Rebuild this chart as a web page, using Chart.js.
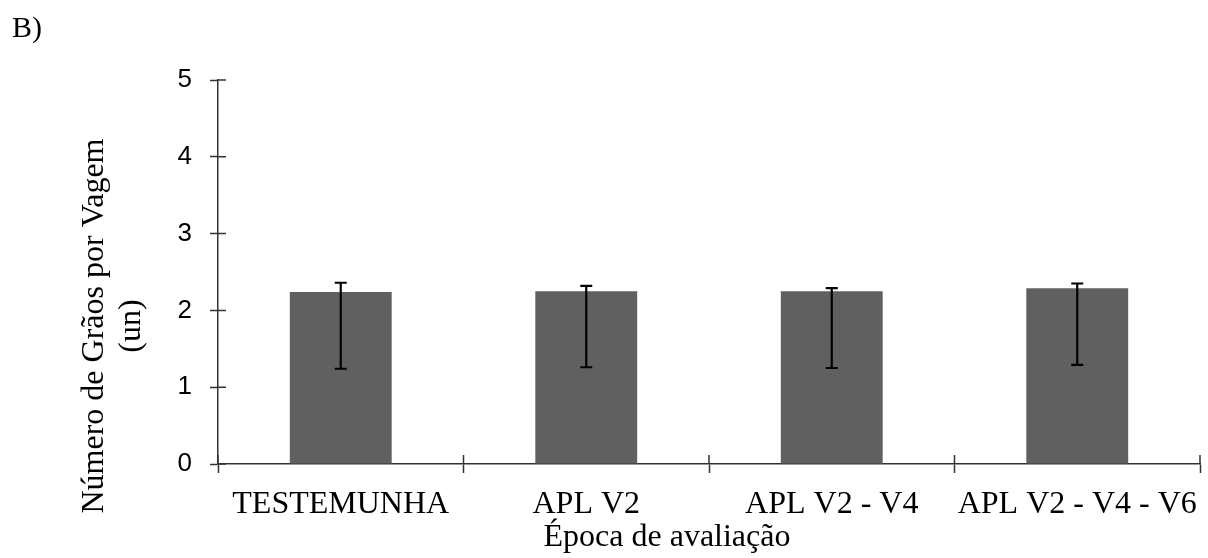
<!DOCTYPE html>
<html lang="pt">
<head>
  <meta charset="UTF-8" />
  <title>Número de Grãos por Vagem</title>
  <script src="https://cdn.jsdelivr.net/npm/chart.js"></script>
  <style>
    body {
      margin: 0;
      background: #fff;
    }
    .wrap {
      width: 1208px;
      height: 558px;
      position: relative;
    }
  </style>
</head>
<body>
  <div class="wrap">
    <canvas id="grainsChart"></canvas>
  </div>

  <script>
    // data
    const categories = ['TESTEMUNHA', 'APL V2', 'APL V2 - V4', 'APL V2 - V4 - V6'];
    const grains = [2.24, 2.25, 2.25, 2.29];
    const errLow = [1.24, 1.26, 1.25, 1.29];
    const errHigh = [2.36, 2.32, 2.29, 2.35];
    const yTicks = [0, 1, 2, 3, 4, 5];

    const serif = '"Liberation Serif", "Times New Roman", serif';
    const sans = '"Liberation Sans", Arial, sans-serif';

    // error bars + ticks that cross the axes + text around the plot
    const extras = {
      id: 'extras',
      afterDatasetsDraw(chart) {
        const ctx = chart.ctx;
        const x = chart.scales.x, y = chart.scales.y;
        const area = chart.chartArea;

        // inner half of the tick marks
        ctx.save();
        ctx.strokeStyle = '#333';
        ctx.lineWidth = 1.5;
        ctx.beginPath();
        yTicks.forEach(v => {
          const py = y.getPixelForValue(v);
          ctx.moveTo(area.left, py);
          ctx.lineTo(area.left + 8, py);
        });
        for (let i = 0; i <= categories.length; i++) {
          const px = x.getPixelForValue(i - 0.5);
          ctx.moveTo(px, area.bottom);
          ctx.lineTo(px, area.bottom - 9);
        }
        ctx.stroke();
        ctx.restore();

        // error bars
        ctx.save();
        ctx.strokeStyle = '#000';
        ctx.lineWidth = 2.2;
        categories.forEach((c, i) => {
          const px = x.getPixelForValue(i);
          const lo = y.getPixelForValue(errLow[i]);
          const hi = y.getPixelForValue(errHigh[i]);
          ctx.beginPath();
          ctx.moveTo(px, lo);
          ctx.lineTo(px, hi);
          ctx.moveTo(px - 6, lo);
          ctx.lineTo(px + 6, lo);
          ctx.moveTo(px - 6, hi);
          ctx.lineTo(px + 6, hi);
          ctx.stroke();
        });
        ctx.restore();

        // titles
        ctx.save();
        ctx.fillStyle = '#000';
        ctx.font = '30px ' + serif;
        ctx.textAlign = 'left';
        ctx.textBaseline = 'alphabetic';
        ctx.fillText('B)', 12, 37);

        ctx.font = '32px ' + serif;
        ctx.textAlign = 'center';
        ctx.fillText('Época de avaliação', 667, 546);

        ctx.translate(103, 326);
        ctx.rotate(-Math.PI / 2);
        ctx.fillText('Número de Grãos por Vagem', 0, 0);
        ctx.fillText('(un)', 0, 37);
        ctx.restore();
      }
    };

    new Chart(document.getElementById('grainsChart'), {
      type: 'bar',
      data: {
        labels: categories,
        datasets: [{
          label: 'Número de Grãos por Vagem',
          data: grains,
          backgroundColor: '#606060',
          borderWidth: 0,
          categoryPercentage: 1,
          barPercentage: 0.415
        }]
      },
      options: {
        responsive: true,
        maintainAspectRatio: false,
        animation: false,
        layout: { padding: { top: 80, right: 8, bottom: 0, left: 0 } },
        plugins: {
          legend: { display: false },
          tooltip: { enabled: false }
        },
        scales: {
          x: {
            afterFit: s => { s.height = 94; s.paddingLeft = 0; s.paddingRight = 0; },
            grid: {
              display: true,
              offset: true,
              drawOnChartArea: false,
              drawTicks: true,
              tickLength: 9,
              tickWidth: 1.5,
              color: '#333'
            },
            border: { display: true, color: '#333', width: 1.5 },
            ticks: {
              color: '#000',
              padding: 12,
              maxRotation: 0,
              autoSkip: false,
              font: { family: serif, size: 32 }
            }
          },
          y: {
            min: 0,
            max: 5,
            afterFit: s => { s.width = 218; },
            afterBuildTicks: s => { s.ticks = yTicks.map(v => ({ value: v })); },
            grid: {
              display: true,
              drawOnChartArea: false,
              drawTicks: true,
              tickLength: 8,
              tickWidth: 1.5,
              color: '#333'
            },
            border: { display: true, color: '#333', width: 1.5 },
            ticks: {
              color: '#000',
              padding: 18,
              font: { family: sans, size: 26 }
            }
          }
        }
      },
      plugins: [extras]
    });
  </script>
</body>
</html>
